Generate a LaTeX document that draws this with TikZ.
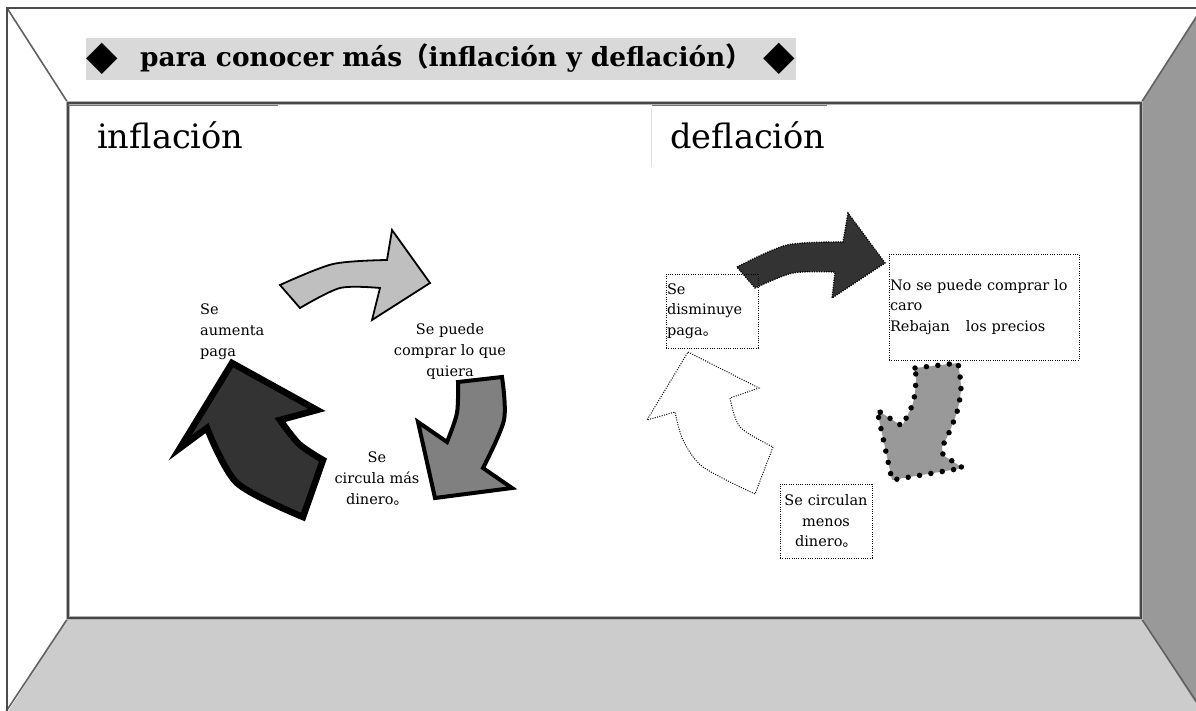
\documentclass[tikz,border=0pt]{standalone}
\usepackage{fontspec}
\setmainfont{DejaVu Serif}
\newfontfamily\cjk{Noto Sans CJK JP}
\newfontfamily\symf{DejaVu Sans}
\begin{document}
\begin{tikzpicture}[x=1pt,y=-1pt,
  wallline/.style={draw=black!62,line width=1.6pt},
  smalltext/.style={font=\fontsize{14.5}{21}\selectfont,inner sep=0pt},
  dotbox/.style={draw=black,line width=1pt,dash pattern=on 1pt off 1.3pt,inner sep=1pt,font=\fontsize{14.5}{20.5}\selectfont},
  bigtitle/.style={anchor=base west,inner sep=0pt,font=\fontsize{33.6}{40}\selectfont},
  diam/.style={inner sep=0pt,font=\symf\fontsize{41}{41}\selectfont}
]
\useasboundingbox (0,0) rectangle (1196,710);
\fill[white] (0,0) rectangle (1196,710);
% room
\fill[black!20] (68,618) -- (1141,618) -- (1202,713) -- (7,713) -- cycle;
\fill[black!40] (1141,103) -- (1202,8) -- (1202,713) -- (1141,618) -- cycle;
\draw[wallline] (7,8) -- (68,103);
\draw[wallline] (1202,8) -- (1141,103);
\draw[wallline] (5,713) -- (68,618);
\draw[wallline] (1204,713) -- (1141,618);
\draw[black!70,line width=2.5pt] (7,8) rectangle (1202,714);
\draw[black!30,line width=4.5pt] (68,103) rectangle (1141,618);
\draw[black!72,line width=1.8pt] (68,103) rectangle (1141,618);
\draw[black!55,line width=1.5pt] (68,105.5) -- (278,105.5);
\draw[black!55,line width=1.5pt] (652,105.5) -- (827,105.5);
\draw[black!12,line width=0.8pt] (651,108) -- (651,167);
% header band
\fill[black!15] (86,38) rectangle (796,80);
\node[diam] (dl) at (102.5,59) {◆};
\node[anchor=base west,inner sep=0pt,font=\bfseries\fontsize{26.4}{30}\selectfont] (htext) at (140,66.5) {para conocer más{\cjk （}inflación y deflación{\cjk ）}};
\node[diam] (dr) at (779,59) {◆};
% headings
\node[bigtitle] (hinf) at (97,148) {inflación};
\node[bigtitle] (hdef) at (670,148) {deflación};
% inflation cycle arrows
\filldraw[fill=black!25,draw=black,line width=1.8pt,line join=miter]
  (280,285) -- plot[smooth] coordinates {(280,285) (333,264) (387,260)}
  -- (392,230) -- (430,283) -- (372,320) -- (380,288)
  -- plot[smooth] coordinates {(380,288) (340,288) (300,308)} -- cycle;
\filldraw[fill=black!50,draw=black,line width=4pt,line join=miter]
  (458,382) -- (502,377) -- plot[smooth] coordinates {(502,377) (504,420) (483,468)}
  -- (512,488) -- (435,498) -- (418,422) -- (447,442)
  -- plot[smooth] coordinates {(447,442) (457,413) (458,382)} -- cycle;
\filldraw[fill=black!80,draw=black,line width=6.5pt,line join=miter]
  (232,363) -- (317,410) -- (280,420)
  -- plot[smooth] coordinates {(280,420) (299,444) (323,460)}
  -- (303,517) -- plot[smooth] coordinates {(303,517) (237,483) (207,428)}
  -- (180,448) -- cycle;
% inflation texts
\node[smalltext,align=left,anchor=north west] (t1) at (200,304) {Se\\aumenta\\paga};
\node[smalltext,align=center,anchor=north] (t2) at (450,323.5) {Se puede\\comprar lo que\\quiera};
\node[smalltext,align=center,anchor=north] (t3) at (377,452) {Se\\circula más\\dinero{\cjk 。}};
% deflation arrows
\filldraw[fill=black!80,draw=black,line width=1.3pt,dash pattern=on 1.2pt off 1.2pt]
  (737,267) -- plot[smooth] coordinates {(737,267) (787,245) (843,242)}
  -- (848,213) -- (885,263) -- (832,298) -- (835,272)
  -- plot[smooth] coordinates {(835,272) (793,273) (755,288)} -- cycle;
\fill[black!40]
  (915,368) -- (958,363) -- plot[smooth] coordinates {(958,363) (961,388) (957,412) (948,435) (942,447)}
  -- (943,455) -- (963,468) -- (892,480) -- (877,410) -- (902,426)
  -- plot[smooth] coordinates {(902,426) (913,403) (916,380) (915,368)} -- cycle;
\draw[black,line width=5.5pt,line cap=round,dash pattern=on 0pt off 11.5pt]
  (915,368) -- (958,363) -- plot[smooth] coordinates {(958,363) (961,388) (957,412) (948,435) (942,447)}
  -- (943,455) -- (963,468) -- (892,480) -- (877,410) -- (902,426)
  -- plot[smooth] coordinates {(902,426) (913,403) (916,380) (915,368)};
\filldraw[fill=white,draw=black,line width=1pt,dash pattern=on 1pt off 1.4pt]
  (688,352) -- (759,388) -- (730,398)
  -- plot[smooth] coordinates {(730,398) (740,427) (773,447)}
  -- (755,494) -- plot[smooth] coordinates {(755,494) (703,467) (683,440) (675,412)}
  -- (647,420) -- cycle;
% deflation boxes
\node[dotbox,text width=90pt,align=left,minimum height=74pt] (b1) at (712,311) {Se\\disminuye\\paga{\cjk 。}};
\node[dotbox,text width=188pt,align=left,minimum height=106pt] (b2) at (984,307) {No se puede comprar lo\\caro\\Rebajan\hspace{16pt}los precios};
\node[dotbox,text width=90pt,align=center,minimum height=74pt] (b3) at (826,521) {Se circulan\\menos\\dinero{\cjk 。}};
\end{tikzpicture}
\end{document}
